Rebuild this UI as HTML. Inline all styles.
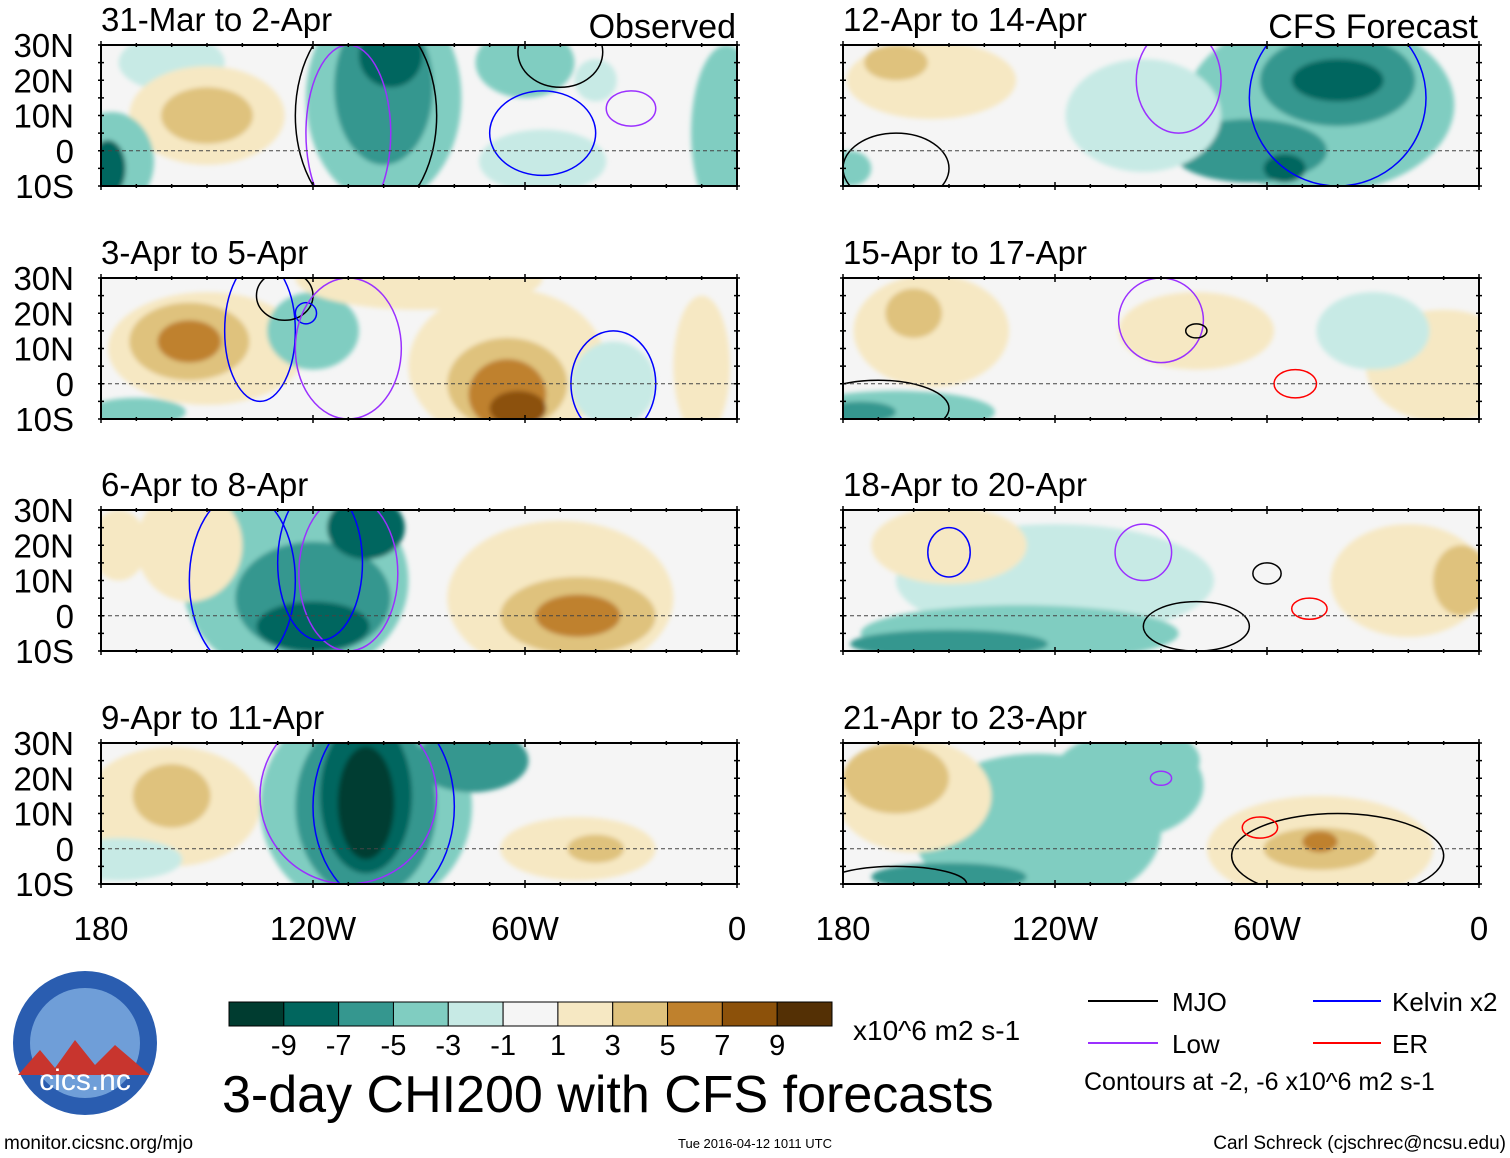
<!DOCTYPE html>
<html><head><meta charset="utf-8">
<style>
html,body{margin:0;padding:0;background:#fff;}
svg{display:block;font-family:"Liberation Sans",Arial,sans-serif;}
</style></head>
<body>
<svg id="chart" width="1510" height="1158" viewBox="0 0 1510 1158" xmlns="http://www.w3.org/2000/svg">
<defs><filter id="soft"><feGaussianBlur stdDeviation="2.5"/></filter></defs>
<g id="panels"></g>
<g id="static"></g>
</svg>
<script>
// ---- data ----
const levels = [-9,-7,-5,-3,-1,1,3,5,7,9];
const levelColors = ["#003c30","#01665e","#35978f","#80cdc1","#c7eae5","#f5f5f5","#f6e8c3","#dfc27d","#bf812d","#8c510a","#543005"];
const panelTitles = ["31-Mar to 2-Apr","3-Apr to 5-Apr","6-Apr to 8-Apr","9-Apr to 11-Apr","12-Apr to 14-Apr","15-Apr to 17-Apr","18-Apr to 20-Apr","21-Apr to 23-Apr"];
const lonTicks = ["180","120W","60W","0"];
const lonTickValues = [-180,-120,-60,0];
const latTicks = ["30N","20N","10N","0","10S"];
const latTickValues = [30,20,10,0,-10];
// blobs: [lon, lat, rx(deg), ry(deg), colorIndex]
const blobs0 = [[-160,25,15,8,4],[-100,15,22,30,3],[-100,18,14,22,2],[-98,27,9,9,1],[-150,10,22,14,6],[-150,10,13,8,7],[-177,-3,12,14,3],[-178,-5,5,8,1],[-60,25,14,10,3],[-55,-3,18,9,4],[-3,5,10,25,3],[-40,20,6,6,4]];
const blobs1 = [[-150,10,28,16,6],[-155,12,17,11,7],[-155,12,9,6,8],[-120,15,13,11,3],[-65,5,28,22,6],[-65,0,17,13,7],[-65,-3,11,10,8],[-62,-7,8,5,9],[-35,0,12,12,4],[-90,30,35,9,6],[-170,-8,14,4,3],[-10,5,8,20,6]];
const blobs2 = [[-125,10,32,28,3],[-120,5,22,16,2],[-120,-3,16,7,1],[-105,25,11,9,1],[-155,20,15,16,6],[-50,5,32,22,6],[-45,0,22,11,7],[-45,0,12,6,8],[-175,20,8,10,6]];
const blobs3 = [[-105,12,30,30,3],[-105,12,20,26,2],[-105,15,13,22,1],[-105,13,8,16,0],[-75,25,16,9,2],[-160,12,25,17,6],[-160,15,11,9,7],[-45,0,22,9,6],[-40,0,8,4,7],[-175,-3,18,6,4]];
const blobs4 = [[-45,13,38,25,3],[-40,20,22,13,2],[-40,20,13,6,1],[-65,0,22,9,2],[-55,-5,6,4,1],[-155,20,24,11,6],[-165,25,9,5,7],[-95,10,22,16,4],[-178,-5,6,5,3]];
const blobs5 = [[-155,15,22,16,6],[-160,20,8,7,7],[-165,-8,28,6,3],[-175,-8,10,3,2],[-10,5,22,16,6],[-30,15,16,11,4],[-80,15,22,11,6]];
const blobs6 = [[-120,10,45,16,4],[-130,-5,45,8,3],[-150,-8,28,4,2],[-20,10,22,16,6],[-5,10,8,10,7],[-150,20,22,11,6]];
const blobs7 = [[-125,5,35,22,3],[-150,-8,22,4,2],[-100,18,22,15,3],[-160,15,22,16,6],[-165,20,15,10,7],[-45,0,32,15,6],[-45,0,16,6,7],[-45,2,5,3,8],[-95,25,16,9,3]];
const allBlobs = [blobs0,blobs1,blobs2,blobs3,blobs4,blobs5,blobs6,blobs7];
// contours: [lon, lat, rx, ry, type]  type: 0 MJO,1 Low,2 Kelvin,3 ER
const cont0 = [[-105,10,20,30,0],[-110,5,12,25,1],[-55,5,15,12,2],[-30,12,7,5,1],[-50,28,12,10,0]];
const cont1 = [[-135,15,10,20,2],[-128,25,8,7,0],[-35,0,12,15,2],[-122,20,3,3,2],[-110,10,15,20,1]];
const cont2 = [[-140,10,15,25,2],[-110,12,14,22,1],[-118,15,12,22,2]];
const cont3 = [[-100,12,20,28,2],[-110,15,25,25,1]];
const cont4 = [[-40,15,25,25,2],[-85,20,12,15,1],[-165,-5,15,10,0]];
const cont5 = [[-90,18,12,12,1],[-52,0,6,4,3],[-80,15,3,2,0],[-170,-7,20,8,0]];
const cont6 = [[-150,18,6,7,2],[-95,18,8,8,1],[-60,12,4,3,0],[-48,2,5,3,3],[-80,-3,15,7,0]];
const cont7 = [[-40,-2,30,12,0],[-62,6,5,3,3],[-90,20,3,2,1],[-165,-10,20,5,0]];
const allConts = [cont0,cont1,cont2,cont3,cont4,cont5,cont6,cont7];
const contColors = ["#000000","#9b30ff","#0000ff","#ff0000"];

// ---- layout ----
const NS="http://www.w3.org/2000/svg";
const colX=[101,843], panelW=636, rowY=[45,278,510,743], panelH=141;
function xScale(col,lon){return colX[col]+(lon+180)/180*panelW;}
function yScale(row,lat){return rowY[row]+(30-lat)/40*panelH;}
function el(tag,attrs,parent){const e=document.createElementNS(NS,tag);for(const k in attrs)e.setAttribute(k,attrs[k]);parent.appendChild(e);return e;}
const root=document.getElementById('panels');
for(let p=0;p<8;p++){
  const col=p<4?0:1,row=p%4;
  const g=el('g',{},root);
  
  
  const cp=el('clipPath',{id:'cp'+p},g);
  el('rect',{x:colX[col],y:rowY[row],width:panelW,height:panelH},cp);
  const inner=el('g',{'clip-path':'url(#cp'+p+')'},g);
  el('rect',{x:colX[col],y:rowY[row],width:panelW,height:panelH,fill:levelColors[5]},inner);
  const fg=el('g',{filter:'url(#soft)'},inner);
  allBlobs[p].forEach(b=>{
    const e=el('ellipse',{cx:xScale(col,b[0]),cy:yScale(row,b[1]),rx:b[2]/180*panelW,ry:b[3]/40*panelH,fill:levelColors[b[4]]},fg);
    
    
  });
  allConts[p].forEach(c=>{
    const e=el('ellipse',{cx:xScale(col,c[0]),cy:yScale(row,c[1]),rx:c[2]/180*panelW,ry:c[3]/40*panelH,fill:'none',stroke:contColors[c[4]],'stroke-width':1.5},inner);
    
    
  });
  const eq=el('line',{x1:colX[col],x2:colX[col]+panelW,y1:yScale(row,0),y2:yScale(row,0),stroke:'#444','stroke-dasharray':'4,3','stroke-width':1},g);
  
  
  const fr=el('rect',{x:colX[col],y:rowY[row],width:panelW,height:panelH,fill:'none',stroke:'#000','stroke-width':2},g);
  
  
  for(let lon=-180;lon<=0;lon+=10){
    const x=xScale(col,lon),L=(lon%60===0)?8:4;
    el('line',{x1:x,x2:x,y1:rowY[row]-L/2,y2:rowY[row]+L/2,stroke:'#000','stroke-width':1.5},g);
    el('line',{x1:x,x2:x,y1:rowY[row]+panelH-L/2,y2:rowY[row]+panelH+L/2,stroke:'#000','stroke-width':1.5},g);
  }
  for(let lat=-10;lat<=30;lat+=5){
    const y=yScale(row,lat);
    el('line',{x1:colX[col]-3,x2:colX[col]+3,y1:y,y2:y,stroke:'#000','stroke-width':1.5},g);
    el('line',{x1:colX[col]+panelW-3,x2:colX[col]+panelW+3,y1:y,y2:y,stroke:'#000','stroke-width':1.5},g);
  }
  const t=el('text',{x:colX[col],y:rowY[row]-14,'font-size':33},g);
  t.textContent=panelTitles[p];
  
  
  if(col===0){
    latTicks.forEach((lab,i)=>{
      const tt=el('text',{x:74,y:yScale(row,latTickValues[i])+12,'font-size':33,'text-anchor':'end'},g);
      tt.textContent=lab;
      
      
    });
  }
  if(row===3){
    lonTicks.forEach((lab,i)=>{
      const tt=el('text',{x:xScale(col,lonTickValues[i]),y:940,'font-size':33,'text-anchor':'middle'},g);
      tt.textContent=lab;
      
      
    });
  }
}
// colorbar
const st=document.getElementById('static');
const cb=el('g',{},st);


const cbX=229,cbW=603,cbY=1002,cbH=24,bw=cbW/levelColors.length;
levelColors.forEach((c,i)=>{el('rect',{x:cbX+i*bw,y:cbY,width:bw,height:cbH,fill:c,stroke:'#000','stroke-width':1},cb);});
levels.forEach((v,i)=>{
  const tt=el('text',{x:cbX+(i+1)*bw,y:1055,'font-size':29,'text-anchor':'middle'},cb);
  tt.textContent=String(v);
  
  
});
</script>
<svg style="position:absolute;left:0;top:0" width="1510" height="1158">
<text x="736" y="38" font-size="34" text-anchor="end" font-family="Liberation Sans">Observed</text>
<text x="1478" y="38" font-size="34" text-anchor="end" font-family="Liberation Sans">CFS Forecast</text>
<text x="853" y="1040" font-size="28" font-family="Liberation Sans">x10^6 m2 s-1</text>
<text x="222" y="1112" font-size="52" font-family="Liberation Sans">3-day CHI200 with CFS forecasts</text>
<g font-family="Liberation Sans" font-size="26">
<line x1="1088" x2="1158" y1="1001" y2="1001" stroke="#000" stroke-width="2"/><text x="1172" y="1011">MJO</text>
<line x1="1088" x2="1158" y1="1043" y2="1043" stroke="#9b30ff" stroke-width="2"/><text x="1172" y="1053">Low</text>
<line x1="1313" x2="1381" y1="1001" y2="1001" stroke="#0000ff" stroke-width="2"/><text x="1392" y="1011">Kelvin x2</text>
<line x1="1313" x2="1381" y1="1043" y2="1043" stroke="#ff0000" stroke-width="2"/><text x="1392" y="1053">ER</text>
<text x="1084" y="1090" font-size="25">Contours at -2, -6 x10^6 m2 s-1</text>
</g>
<g>
<circle cx="85" cy="1043" r="72" fill="#2a5db0"/>
<circle cx="85" cy="1043" r="55" fill="#6f9ed8"/>
<path d="M18 1075 L40 1050 L55 1068 L75 1040 L95 1065 L115 1045 L150 1075 Z" fill="#c8352e"/>
<text x="85" y="1090" font-size="30" fill="#fff" text-anchor="middle" font-family="Liberation Sans">cics.nc</text>
</g>
<text x="4" y="1149" font-size="19" font-family="Liberation Sans">monitor.cicsnc.org/mjo</text>
<text x="755" y="1148" font-size="13" text-anchor="middle" font-family="Liberation Sans">Tue 2016-04-12 1011 UTC</text>
<text x="1506" y="1149" font-size="19" text-anchor="end" font-family="Liberation Sans">Carl Schreck (cjschrec@ncsu.edu)</text>
</svg>
</body></html>
